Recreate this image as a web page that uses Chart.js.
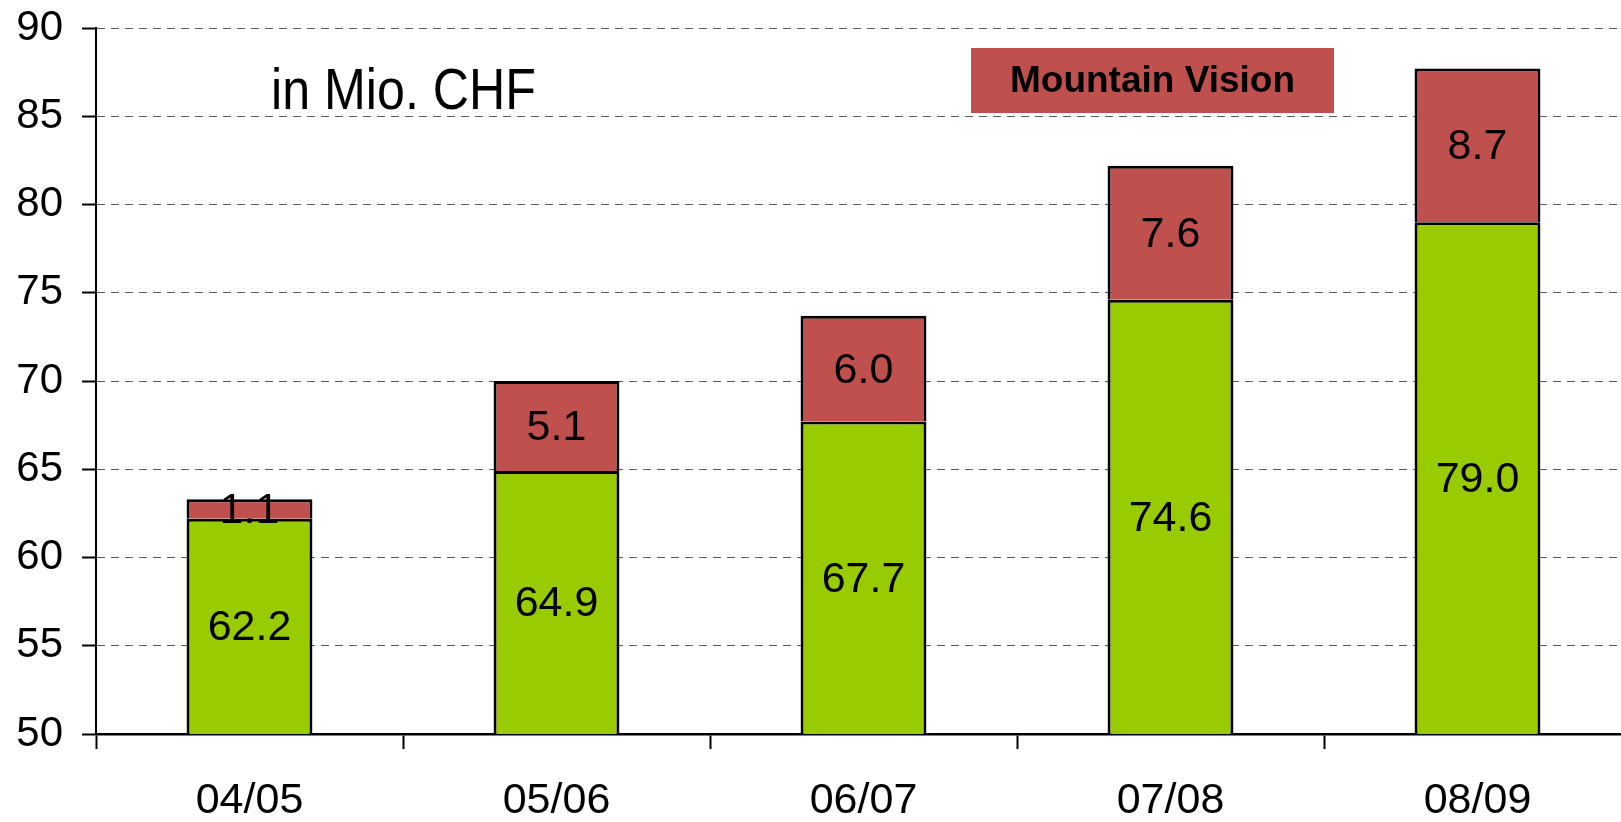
<!DOCTYPE html>
<html>
<head>
<meta charset="utf-8">
<title>Umsatz in Mio. CHF</title>
<script src="https://cdn.jsdelivr.net/npm/chart.js@4.4.1/dist/chart.umd.min.js"></script>
<style>
  html, body { margin: 0; padding: 0; background: #fff; overflow: hidden; }
  #chartCanvas { display: block; }
</style>
</head>
<body>
<canvas id="chartCanvas" width="1640" height="822"></canvas>
<script>
// chart values
const categories = ['04/05', '05/06', '06/07', '07/08', '08/09'];
const baseValues = [62.2, 64.9, 67.7, 74.6, 79.0];
const mountainVision = [1.1, 5.1, 6.0, 7.6, 8.7];
const yMin = 50;
const yMax = 90;
const yStep = 5;
const unitLabel = 'in Mio. CHF';

const GREEN = '#99CC00';
const RED = '#C0504D';
const FONT = "'Liberation Sans', Arial, sans-serif";

// value labels centred in each bar segment
const segmentLabels = {
  id: 'segmentLabels',
  afterDatasetsDraw(chart) {
    const ctx = chart.ctx;
    const area = chart.chartArea;
    ctx.save();
    ctx.font = '43px ' + FONT;
    ctx.fillStyle = '#000';
    ctx.textAlign = 'center';
    ctx.textBaseline = 'middle';
    chart.data.datasets.forEach((ds, di) => {
      const meta = chart.getDatasetMeta(di);
      meta.data.forEach((bar, i) => {
        const top = Math.max(bar.y, area.top);
        const bottom = Math.min(bar.base, area.bottom);
        ctx.fillText(ds.data[i].toFixed(1), bar.x, (top + bottom) / 2 + 2);
      });
    });
    ctx.restore();
  }
};

// unit text and the single legend box for the second series
const annotations = {
  id: 'annotations',
  afterDraw(chart) {
    const ctx = chart.ctx;
    ctx.save();
    // unit text, slightly condensed
    ctx.font = '58px ' + FONT;
    ctx.fillStyle = '#000';
    ctx.textBaseline = 'alphabetic';
    const w = ctx.measureText(unitLabel).width;
    ctx.translate(271, 109);
    ctx.scale(265 / w, 1);
    ctx.fillText(unitLabel, 0, 0);
    ctx.restore();

    // legend box
    const ds = chart.data.datasets[1];
    ctx.save();
    ctx.fillStyle = ds.backgroundColor;
    ctx.fillRect(971, 48, 363, 65);
    ctx.font = 'bold 37px ' + FONT;
    ctx.fillStyle = '#000';
    ctx.textAlign = 'center';
    ctx.textBaseline = 'middle';
    ctx.fillText(ds.label, 971 + 363 / 2, 48 + 65 / 2 + 1);
    ctx.restore();
  }
};

const ctx = document.getElementById('chartCanvas').getContext('2d');
new Chart(ctx, {
  type: 'bar',
  data: {
    labels: categories,
    datasets: [
      {
        label: 'Basis',
        data: baseValues,
        backgroundColor: GREEN,
        borderColor: '#000',
        borderWidth: 3,
        borderSkipped: false,
      },
      {
        label: 'Mountain Vision',
        data: mountainVision,
        backgroundColor: RED,
        borderColor: '#000',
        borderWidth: 3,
        borderSkipped: 'bottom',
      },
    ],
  },
  options: {
    responsive: false,
    animation: false,
    devicePixelRatio: 1,
    datasets: {
      bar: { categoryPercentage: 1.0, barPercentage: 0.41 },
    },
    layout: { padding: { top: 28, right: 9, left: 0, bottom: 0 } },
    plugins: {
      legend: { display: false },
      tooltip: { enabled: false },
    },
    scales: {
      x: {
        stacked: true,
        afterFit: (scale) => {
          scale.height = 88;
          scale.paddingLeft = 0;
          scale.paddingRight = 0;
        },
        grid: {
          drawOnChartArea: false,
          drawTicks: true,
          tickLength: 15,
          tickColor: '#000',
          tickWidth: 2,
          offset: true,
        },
        border: { display: true, color: '#000', width: 2.5 },
        ticks: {
          color: '#000',
          font: { family: FONT, size: 43 },
          padding: 26,
          maxRotation: 0,
        },
      },
      y: {
        stacked: true,
        min: yMin,
        max: yMax,
        afterFit: (scale) => {
          scale.width = 96;
          scale.paddingTop = 0;
          scale.paddingBottom = 0;
        },
        grid: {
          color: '#5a5a5a',
          lineWidth: 1,
          drawTicks: true,
          tickLength: 14,
          tickColor: '#000',
          tickWidth: 2,
          tickBorderDash: [],
        },
        border: { display: true, color: '#000', width: 2, dash: [8, 6] },
        ticks: {
          stepSize: yStep,
          color: '#000',
          font: { family: FONT, size: 42 },
          padding: 19,
        },
      },
    },
  },
  plugins: [segmentLabels, annotations],
});
</script>
</body>
</html>
